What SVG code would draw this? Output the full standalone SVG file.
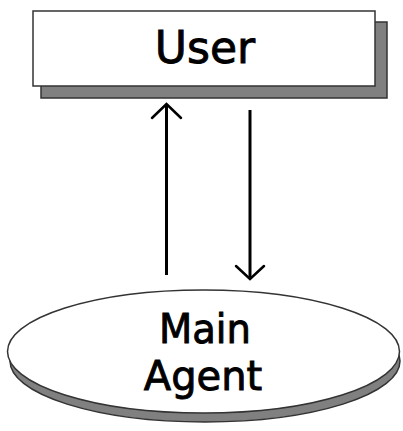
<svg xmlns="http://www.w3.org/2000/svg" width="403" height="431" viewBox="0 0 403 431">
<defs>
<style>
.shadow{fill:#808080;stroke:#333;stroke-width:1.5}
.shape{fill:#fff;stroke:#333;stroke-width:1.5}
.lbl{font-family:"DejaVu Sans",Verdana,sans-serif;fill:#000;stroke:#000;stroke-width:0.9;text-anchor:middle}
.conn{stroke:#000;stroke-width:3;fill:none}
.head{stroke:#000;stroke-width:2.5;fill:none;stroke-linecap:round;stroke-linejoin:miter}
</style>
</defs>
<rect width="403" height="431" fill="#fff"/>
<g id="user">
<rect class="shadow" x="41" y="22" width="346" height="76"/>
<rect class="shape" x="33" y="11" width="342" height="75"/>
<text class="lbl" x="205" y="63" font-size="44">User</text>
</g>
<g id="main-agent">
<ellipse class="shadow" cx="205" cy="361" rx="195" ry="61"/>
<ellipse class="shape" cx="203.5" cy="351.5" rx="196" ry="61.5"/>
<text class="lbl" x="205" y="343" font-size="40" textLength="92" lengthAdjust="spacingAndGlyphs">Main</text>
<text class="lbl" x="203" y="390" font-size="40">Agent</text>
</g>
<g id="connectors">
<line class="conn" x1="166.5" y1="275" x2="166.5" y2="105"/>
<polyline class="head" points="152,118 166.5,104 181,118"/>
<line class="conn" x1="250" y1="110" x2="250" y2="277"/>
<polyline class="head" points="236,266 250,279 264,266"/>
</g>
</svg>
